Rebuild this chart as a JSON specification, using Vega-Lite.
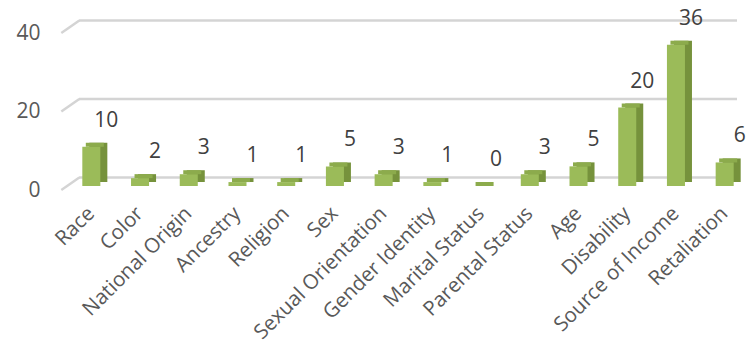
{
  "$schema": "https://vega.github.io/schema/vega-lite/v6.json",
  "width": 658,
  "height": 157,
  "autosize": {"type": "none"},
  "padding": {"left": 79, "top": 29, "right": 16, "bottom": 160},
  "background": "white",
  "config": {"view": {"stroke": null}, "font": "Open Sans"},
  "datasets": {
    "bars": [
      {"basis": "Race", "count": 10},
      {"basis": "Color", "count": 2},
      {"basis": "National Origin", "count": 3},
      {"basis": "Ancestry", "count": 1},
      {"basis": "Religion", "count": 1},
      {"basis": "Sex", "count": 5},
      {"basis": "Sexual Orientation", "count": 3},
      {"basis": "Gender Identity", "count": 1},
      {"basis": "Marital Status", "count": 0},
      {"basis": "Parental Status", "count": 3},
      {"basis": "Age", "count": 5},
      {"basis": "Disability", "count": 20},
      {"basis": "Source of Income", "count": 36},
      {"basis": "Retaliation", "count": 6}
    ],
    "grid": [{"v": 0}, {"v": 20}, {"v": 40}]
  },
  "layer": [
    {
      "data": {"name": "grid"},
      "mark": {"type": "rule", "color": "#d4d4d4", "strokeWidth": 2.5, "yOffset": -8.5, "x2Offset": 17},
      "encoding": {
        "y": {"field": "v", "type": "quantitative", "scale": {"domain": [0, 40]},
          "axis": {"values": [0, 20, 40], "domain": false, "ticks": false, "grid": false, "title": null,
            "labelFontSize": 21, "labelColor": "#595959", "labelPadding": 39, "labelOffset": 4, "labelFont": "Open Sans"}}
      }
    },
    {
      "data": {"name": "grid"},
      "mark": {"type": "rule", "color": "#d4d4d4", "strokeWidth": 2.5, "xOffset": -21, "x2Offset": -3, "yOffset": 4, "y2Offset": -8.5},
      "encoding": {
        "x": {"datum": "Race", "type": "nominal", "bandPosition": 0},
        "x2": {"datum": "Race", "bandPosition": 0},
        "y": {"field": "v", "type": "quantitative"},
        "y2": {"field": "v"}
      }
    },
    {
      "data": {"name": "bars"},
      "layer": [
        {
          "mark": {"type": "bar", "color": "#76923c", "xOffset": 7, "yOffset": -4, "y2Offset": -4},
          "encoding": {"y": {"field": "count", "type": "quantitative"}}
        },
        {
          "mark": {"type": "bar", "color": "#8cab4c", "xOffset": 3.5, "yOffset": -4, "y2Offset": 0},
          "encoding": {"y": {"field": "count", "type": "quantitative"}, "y2": {"field": "count"}}
        },
        {
          "mark": {"type": "bar", "color": "#9bbb59"},
          "encoding": {"y": {"field": "count", "type": "quantitative"}}
        },
        {
          "mark": {"type": "text", "dx": 15, "dy": -26, "fontSize": 21, "color": "#404040", "baseline": "middle", "align": "center", "font": "Open Sans"},
          "encoding": {"y": {"field": "count", "type": "quantitative"}, "text": {"field": "count", "type": "quantitative"}}
        }
      ],
      "encoding": {
        "x": {"field": "basis", "type": "nominal", "sort": null,
          "scale": {"paddingInner": 0.63, "paddingOuter": 0.068},
          "axis": {"title": null, "domain": false, "ticks": false, "labelAngle": -45, "labelAlign": "right", "labelBaseline": "middle",
            "labelFontSize": 20.5, "labelColor": "#595959", "labelPadding": 24, "labelFont": "Open Sans", "labelOverlap": false, "labelLimit": 300}}
      }
    }
  ]
}
